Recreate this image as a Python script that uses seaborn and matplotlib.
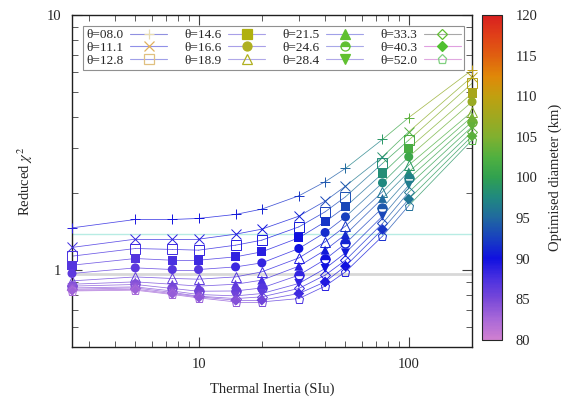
import numpy as np
import pandas as pd
import matplotlib
matplotlib.use("Agg")
import matplotlib.pyplot as plt
import seaborn as sns
from matplotlib.colors import LinearSegmentedColormap, Normalize
from matplotlib.lines import Line2D
from matplotlib.cm import ScalarMappable
from matplotlib.ticker import LogLocator, NullFormatter, FixedLocator, FixedFormatter

sns.set_style("ticks")
plt.rcParams["font.family"] = ["Liberation Serif", "DejaVu Serif"]
plt.rcParams["mathtext.fontset"] = "stix"

# thermal inertia grid
thermal_inertia = [2.5, 5, 7.5, 10, 15, 20, 30, 40, 50, 75, 100, 200]
thetas = ["08.0", "11.1", "12.8", "14.6", "16.6", "18.9",
          "21.5", "24.6", "28.4", "33.3", "40.3", "52.0"]

# reduced chi^2, one list per theta
chi_08_0 = [1.465, 1.580, 1.580, 1.595, 1.654, 1.735, 1.956, 2.220, 2.505, 3.254, 3.963, 6.085]
chi_11_1 = [1.228, 1.323, 1.323, 1.323, 1.384, 1.448, 1.628, 1.865, 2.135, 2.782, 3.486, 5.728]
chi_12_8 = [1.135, 1.216, 1.206, 1.198, 1.253, 1.311, 1.478, 1.693, 1.939, 2.621, 3.234, 5.397]
chi_14_6 = [1.046, 1.111, 1.094, 1.094, 1.128, 1.180, 1.339, 1.547, 1.771, 2.394, 3.001, 4.931]
chi_16_6 = [0.971, 1.021, 1.006, 1.006, 1.030, 1.068, 1.216, 1.405, 1.618, 2.200, 2.782, 4.571]
chi_18_9 = [0.908, 0.941, 0.928, 0.922, 0.941, 0.985, 1.117, 1.291, 1.488, 2.028, 2.581, 4.176]
chi_21_5 = [0.881, 0.900, 0.881, 0.866, 0.881, 0.914, 1.037, 1.198, 1.380, 1.911, 2.429, 3.993]
chi_24_6 = [0.866, 0.879, 0.848, 0.827, 0.829, 0.852, 0.956, 1.102, 1.273, 1.755, 2.289, 3.815]
chi_28_4 = [0.852, 0.860, 0.829, 0.803, 0.793, 0.810, 0.887, 1.015, 1.169, 1.628, 2.154, 3.647]
chi_33_3 = [0.842, 0.852, 0.818, 0.791, 0.774, 0.786, 0.848, 0.956, 1.094, 1.525, 2.022, 3.486]
chi_40_3 = [0.835, 0.842, 0.810, 0.786, 0.763, 0.763, 0.810, 0.900, 1.037, 1.444, 1.898, 3.354]
chi_52_0 = [0.829, 0.835, 0.803, 0.779, 0.751, 0.751, 0.774, 0.866, 0.985, 1.359, 1.790, 3.234]

# optimised diameter (km), one list per theta
diam_08_0 = [89.0, 89.5, 90.0, 90.0, 90.5, 91.0, 92.0, 94.0, 95.0, 99.0, 103.0, 110.0]
diam_11_1 = [88.0, 88.5, 89.0, 89.0, 89.5, 90.0, 91.0, 93.0, 94.0, 98.5, 102.5, 109.5]
diam_12_8 = [87.5, 88.0, 88.0, 88.5, 89.0, 89.5, 90.5, 92.5, 93.5, 98.0, 102.0, 109.0]
diam_14_6 = [87.0, 87.0, 87.5, 88.0, 88.5, 89.0, 90.0, 92.0, 93.0, 98.0, 102.0, 108.0]
diam_16_6 = [86.5, 86.5, 87.0, 87.0, 88.0, 88.5, 90.0, 91.5, 92.5, 97.5, 101.0, 107.0]
diam_18_9 = [85.5, 86.0, 86.0, 86.5, 87.0, 88.0, 89.5, 91.0, 92.0, 96.0, 99.0, 105.5]
diam_21_5 = [85.0, 85.0, 85.5, 86.0, 86.5, 87.5, 89.0, 90.5, 91.5, 95.0, 98.0, 104.5]
diam_24_6 = [84.5, 84.5, 85.0, 85.5, 86.0, 87.0, 88.5, 90.0, 91.0, 94.0, 97.0, 104.0]
diam_28_4 = [84.0, 84.0, 84.5, 85.0, 85.5, 86.5, 88.5, 90.0, 90.5, 93.0, 96.5, 103.5]
diam_33_3 = [83.5, 83.5, 84.0, 84.5, 85.0, 86.0, 88.0, 89.5, 90.0, 92.5, 96.0, 103.0]
diam_40_3 = [83.0, 83.0, 83.5, 84.0, 84.5, 85.5, 88.0, 89.5, 90.0, 92.0, 96.0, 103.0]
diam_52_0 = [82.5, 82.5, 83.0, 83.5, 84.0, 85.0, 87.5, 89.0, 89.5, 91.5, 95.5, 102.5]

chi_all = [chi_08_0, chi_11_1, chi_12_8, chi_14_6, chi_16_6, chi_18_9,
           chi_21_5, chi_24_6, chi_28_4, chi_33_3, chi_40_3, chi_52_0]
diam_all = [diam_08_0, diam_11_1, diam_12_8, diam_14_6, diam_16_6, diam_18_9,
            diam_21_5, diam_24_6, diam_28_4, diam_33_3, diam_40_3, diam_52_0]

# reference levels
ref_upper = 1.38
ref_lower = 0.965

# marker style per series: (marker, filled, fillstyle)
styles = [("+", False, "full"), ("x", False, "full"), ("s", False, "full"),
          ("s", True, "full"), ("o", True, "full"), ("^", False, "full"),
          ("^", True, "full"), ("o", True, "top"), ("v", True, "full"),
          ("D", False, "full"), ("D", True, "full"), ("p", False, "full")]
sizes = [7, 6.5, 7, 6.5, 6.5, 6.5, 6.5, 6.5, 6.5, 5.5, 5.5, 6.5]

# legend colours as drawn in the key
key_lines = ["#9090e0", "#9090e8", "#a0a0e8", "#a8a0e8", "#a8a0e8", "#b0a8e8",
             "#a0a0e8", "#a8a8e8", "#b0a8e8", "#a8a8a8", "#e0a0e0", "#e0a8e0"]
key_marks = ["#e8dcb0", "#e0b060", "#e0c080", "#b0b010", "#b0b020", "#b0b020",
             "#60c030", "#60c030", "#60c030", "#60c030", "#50c030", "#80d080"]

cmap = LinearSegmentedColormap.from_list("diam", [
    (0.0, "#d080d0"), (0.0625, "#a868d8"), (0.125, "#7848d8"), (0.1875, "#4a30e0"),
    (0.25, "#1010e0"), (0.3125, "#1840c0"), (0.375, "#2068a0"), (0.4375, "#208880"),
    (0.5, "#30a050"), (0.5625, "#50b040"), (0.625, "#80b030"), (0.6875, "#a0a820"),
    (0.75, "#c0a010"), (0.8125, "#e08808"), (0.875, "#e06010"), (0.9375, "#e04018"),
    (1.0, "#d82020")])
norm = Normalize(80, 120)

fig = plt.figure(figsize=(5.63, 4.0), dpi=100)
ax = fig.add_axes([0.1279, 0.1325, 0.7105, 0.83])
cax = fig.add_axes([0.856, 0.15, 0.0355, 0.8125])

ax.axhline(ref_upper, color="#b8ece4", lw=1.0, zorder=1)
ax.axhline(ref_lower, color="#d8d8d8", lw=2.0, zorder=1)

rows = []
for k, (chi, diam) in enumerate(zip(chi_all, diam_all)):
    for i in range(len(thermal_inertia) - 1):
        c = cmap(norm((diam[i] + diam[i + 1]) / 2))
        ax.plot(thermal_inertia[i:i + 2], chi[i:i + 2], color=c, lw=0.55, alpha=0.8, zorder=2)
    for xv, yv, d in zip(thermal_inertia, chi, diam):
        rows.append({"ti": xv, "chi": yv, "diam": d, "series": k})

df = pd.DataFrame(rows)

for k in range(len(thetas)):
    m, filled, fs = styles[k]
    sub = df[df["series"] == k]
    if filled and fs == "full":
        sns.scatterplot(data=sub, x="ti", y="chi", hue="diam", palette=cmap,
                        hue_norm=(80, 120), marker=m, s=sizes[k] ** 2, linewidth=0,
                        legend=False, ax=ax, zorder=3, clip_on=False)
    else:
        for _, r in sub.iterrows():
            c = cmap(norm(r["diam"]))
            if fs == "top":
                ax.plot(r["ti"], r["chi"], marker=m, ms=sizes[k], mfc=c, mec=c,
                        fillstyle="top", markerfacecoloralt="white", mew=1,
                        ls="none", zorder=3, clip_on=False)
            else:
                ax.plot(r["ti"], r["chi"], marker=m, ms=sizes[k], mfc="none", mec=c,
                        mew=0.7, ls="none", zorder=3, clip_on=False)

ax.set_xscale("log")
ax.set_yscale("log")
ax.set_xlim(2.5, 200)
ax.set_ylim(0.5, 10)

ax.xaxis.set_major_locator(FixedLocator([10, 100]))
ax.xaxis.set_major_formatter(FixedFormatter(["10", "100"]))
ax.xaxis.set_minor_locator(LogLocator(base=10, subs=np.arange(2, 10)))
ax.xaxis.set_minor_formatter(NullFormatter())
ax.yaxis.set_major_locator(FixedLocator([1, 10]))
ax.yaxis.set_major_formatter(FixedFormatter(["1", "10"]))
ax.yaxis.set_minor_locator(LogLocator(base=10, subs=np.arange(2, 10)))
ax.yaxis.set_minor_formatter(NullFormatter())
ax.tick_params(which="both", direction="in", top=True, right=True, labelsize=10.5,
               color="#404040")
ax.tick_params(which="major", length=7, width=0.8, pad=8)
ax.tick_params(which="minor", length=4, width=0.6)
for sp in ax.spines.values():
    sp.set_linewidth(1.0)
    sp.set_color("#202020")

ax.set_xlabel("Thermal Inertia (SIu)", fontsize=10.5, labelpad=8)
ax.set_ylabel(r"Reduced $\chi^2$", fontsize=10.5, labelpad=8)

handles = []
for k in range(len(thetas)):
    m, filled, fs = styles[k]
    h = Line2D([], [], color=key_lines[k], lw=0.8, marker=m, ms=sizes[k],
               mec=key_marks[k], mfc=key_marks[k] if filled else "none", mew=0.9,
               fillstyle=fs if filled else "full", markerfacecoloralt="white")
    handles.append(h)
labels = ["θ=" + t for t in thetas]
leg = ax.legend(handles, labels, ncol=4, loc="upper left",
                bbox_to_anchor=(0.136, 0.9525), bbox_transform=fig.transFigure,
                markerfirst=False, fontsize=9.5, handlelength=2.8,
                labelspacing=0.05, columnspacing=1.3, handletextpad=0.5,
                borderpad=0.25, fancybox=False, framealpha=1)
leg.get_frame().set_edgecolor("#909090")
leg.get_frame().set_linewidth(0.8)

cb = fig.colorbar(ScalarMappable(norm=norm, cmap=cmap), cax=cax)
cb.set_ticks([80, 85, 90, 95, 100, 105, 110, 115, 120])
cb.ax.tick_params(direction="in", length=5, width=0.6, labelsize=10.5, pad=10,
                  left=True, right=True)
cb.outline.set_linewidth(0.8)
cb.set_label("Optimised diameter (km)", fontsize=10.5, labelpad=8)

fig.savefig("out.png", dpi=100)
